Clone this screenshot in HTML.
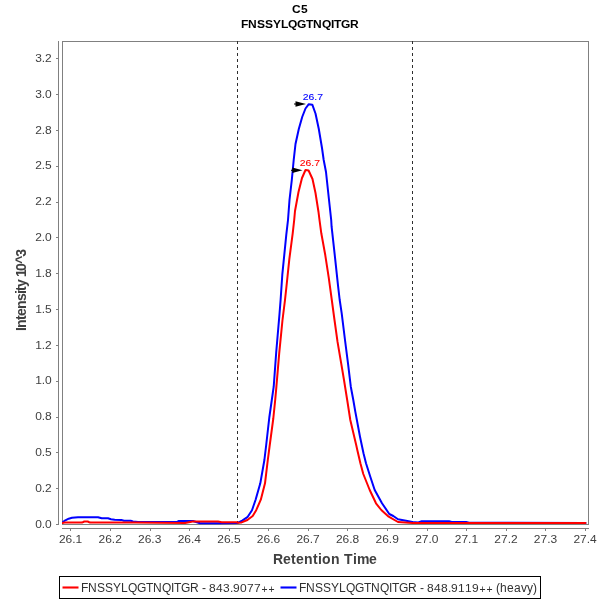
<!DOCTYPE html>
<html><head><meta charset="utf-8"><title>C5 FNSSYLQGTNQITGR</title>
<style>
html,body{margin:0;padding:0;background:#fff;}
body{width:600px;height:600px;overflow:hidden;}
svg{display:block;font-family:"Liberation Sans",Arial,Helvetica,sans-serif;}
.tk{font-size:12px;fill:#404040;}
.ax{font-size:14px;font-weight:bold;fill:#404040;}
.ti{font-size:12px;font-weight:bold;fill:#000;}
.lg{font-size:12px;fill:#303030;}
.an{font-size:9.3px;}
</style></head><body>
<svg width="600" height="600" viewBox="0 0 600 600">
<rect x="0" y="0" width="600" height="600" fill="#fff"/>
<text class="ti" transform="translate(0,12.6) scale(1,0.95)" x="292 301" y="0">C5</text>
<text class="ti" transform="translate(0,27.8) scale(1,0.95)" x="241 248 257 265 273 281 288 297 306 313 322 331 334 341 350" y="0">FNSSYLQGTNQITGR</text>
<g shape-rendering="crispEdges" stroke="#808080" stroke-width="1" fill="none">
<rect x="62.5" y="41.5" width="526" height="483"/>
<line x1="58.5" y1="41" x2="58.5" y2="525"/>
<line x1="62" y1="528.5" x2="589" y2="528.5"/>
<line x1="56" y1="58.5" x2="58" y2="58.5"/>
<line x1="56" y1="94.5" x2="58" y2="94.5"/>
<line x1="56" y1="130.5" x2="58" y2="130.5"/>
<line x1="56" y1="166.5" x2="58" y2="166.5"/>
<line x1="56" y1="202.5" x2="58" y2="202.5"/>
<line x1="56" y1="237.5" x2="58" y2="237.5"/>
<line x1="56" y1="273.5" x2="58" y2="273.5"/>
<line x1="56" y1="309.5" x2="58" y2="309.5"/>
<line x1="56" y1="345.5" x2="58" y2="345.5"/>
<line x1="56" y1="381.5" x2="58" y2="381.5"/>
<line x1="56" y1="417.5" x2="58" y2="417.5"/>
<line x1="56" y1="452.5" x2="58" y2="452.5"/>
<line x1="56" y1="488.5" x2="58" y2="488.5"/>
<line x1="56" y1="524.5" x2="58" y2="524.5"/>
<line x1="70.5" y1="529" x2="70.5" y2="531"/>
<line x1="110.5" y1="529" x2="110.5" y2="531"/>
<line x1="150.5" y1="529" x2="150.5" y2="531"/>
<line x1="189.5" y1="529" x2="189.5" y2="531"/>
<line x1="229.5" y1="529" x2="229.5" y2="531"/>
<line x1="268.5" y1="529" x2="268.5" y2="531"/>
<line x1="308.5" y1="529" x2="308.5" y2="531"/>
<line x1="347.5" y1="529" x2="347.5" y2="531"/>
<line x1="387.5" y1="529" x2="387.5" y2="531"/>
<line x1="427.5" y1="529" x2="427.5" y2="531"/>
<line x1="466.5" y1="529" x2="466.5" y2="531"/>
<line x1="506.5" y1="529" x2="506.5" y2="531"/>
<line x1="545.5" y1="529" x2="545.5" y2="531"/>
<line x1="585.5" y1="529" x2="585.5" y2="531"/>
</g>
<g class="tk" text-anchor="end" style="letter-spacing:-0.15px">
<text transform="translate(51.5,62.0) scale(1,0.92)">3.2</text>
<text transform="translate(51.5,97.8) scale(1,0.92)">3.0</text>
<text transform="translate(51.5,133.6) scale(1,0.92)">2.8</text>
<text transform="translate(51.5,169.4) scale(1,0.92)">2.5</text>
<text transform="translate(51.5,205.2) scale(1,0.92)">2.2</text>
<text transform="translate(51.5,241.1) scale(1,0.92)">2.0</text>
<text transform="translate(51.5,276.9) scale(1,0.92)">1.8</text>
<text transform="translate(51.5,312.7) scale(1,0.92)">1.5</text>
<text transform="translate(51.5,348.5) scale(1,0.92)">1.2</text>
<text transform="translate(51.5,384.3) scale(1,0.92)">1.0</text>
<text transform="translate(51.5,420.1) scale(1,0.92)">0.8</text>
<text transform="translate(51.5,456.0) scale(1,0.92)">0.5</text>
<text transform="translate(51.5,491.8) scale(1,0.92)">0.2</text>
<text transform="translate(51.5,527.6) scale(1,0.92)">0.0</text>
</g>
<g class="tk" text-anchor="middle">
<text transform="translate(70.6,543) scale(1,0.92)">26.1</text>
<text transform="translate(110.2,543) scale(1,0.92)">26.2</text>
<text transform="translate(149.7,543) scale(1,0.92)">26.3</text>
<text transform="translate(189.3,543) scale(1,0.92)">26.4</text>
<text transform="translate(228.9,543) scale(1,0.92)">26.5</text>
<text transform="translate(268.5,543) scale(1,0.92)">26.6</text>
<text transform="translate(308.1,543) scale(1,0.92)">26.7</text>
<text transform="translate(347.6,543) scale(1,0.92)">26.8</text>
<text transform="translate(387.2,543) scale(1,0.92)">26.9</text>
<text transform="translate(426.8,543) scale(1,0.92)">27.0</text>
<text transform="translate(466.4,543) scale(1,0.92)">27.1</text>
<text transform="translate(506.0,543) scale(1,0.92)">27.2</text>
<text transform="translate(545.5,543) scale(1,0.92)">27.3</text>
<text transform="translate(585.1,543) scale(1,0.92)">27.4</text>
</g>
<text class="ax" x="273 283 291 296 304 313 318 322 331 340 344 353 357 369" y="564">Retention Time</text>
<text class="ax" transform="translate(26,331) rotate(-90)" x="0 3 11 15 22 30 37 40 44 51 54 60 67.3 74.3" y="0">Intensity 10^3</text>
<g stroke="#2e2e2e" stroke-width="1" stroke-dasharray="3 3" shape-rendering="crispEdges"><line x1="237.5" y1="41" x2="237.5" y2="524"/><line x1="412.5" y1="41" x2="412.5" y2="524"/></g>
<clipPath id="pc"><rect x="62" y="41" width="527" height="484"/></clipPath>
<g clip-path="url(#pc)" fill="none" stroke-width="2" stroke-linejoin="round" stroke-linecap="round">
<polyline stroke="#0000ff" points="62.5,522.3 65.3,520.3 68.7,518.7 72.0,517.8 78.0,517.3 98.0,517.3 101.7,518.3 108.0,518.3 111.0,519.2 114.7,519.7 121.3,519.9 124.0,520.7 130.7,520.8 133.0,521.5 138.0,522.0 176.7,522.0 178.5,521.0 193.0,521.0 200.0,523.3 220.0,523.3 237.5,523.0 242.2,520.7 247.4,517.2 252.0,510.2 255.6,499.7 260.3,483.3 264.4,460.0 266.2,445.0 269.3,417.5 271.8,400.0 273.7,386.7 276.2,352.5 279.5,314.0 280.6,300.0 282.3,274.7 286.3,234.7 288.0,220.0 289.5,200.0 291.8,180.0 293.7,160.0 295.5,144.0 298.8,129.0 302.2,117.0 305.5,108.5 308.8,104.2 312.3,104.7 315.5,113.5 318.8,129.0 322.0,148.0 323.7,160.0 326.0,172.0 328.8,198.0 331.2,220.0 331.6,226.7 335.0,257.3 338.0,285.3 339.7,300.0 341.7,313.3 345.0,340.0 348.0,363.3 350.8,386.7 353.3,400.0 355.3,411.7 360.0,436.7 363.5,453.3 366.0,463.3 370.3,476.7 374.7,490.0 382.0,503.3 389.3,514.0 393.3,516.0 398.0,519.3 406.0,520.7 412.4,522.0 418.3,522.4 421.7,521.2 449.0,521.2 451.7,522.0 466.0,522.0 469.0,522.8 585.5,523.0"/>
<polyline stroke="#ff0000" points="62.5,523.0 64.5,522.6 82.0,522.6 84.3,521.5 87.7,521.5 90.0,522.6 135.0,522.6 185.0,523.0 192.7,521.5 218.0,521.5 221.7,522.3 236.7,522.3 238.0,522.8 241.6,522.4 247.4,520.0 252.7,516.0 256.2,510.2 260.8,499.7 265.0,483.3 267.8,460.0 269.5,447.0 273.3,418.5 275.2,400.0 276.4,386.7 279.2,353.3 282.5,320.0 285.0,300.0 286.3,288.0 289.3,259.3 292.7,233.3 294.2,220.0 295.0,211.0 298.5,192.0 302.0,178.0 305.5,170.0 308.6,170.5 312.5,179.0 315.5,193.0 318.5,212.0 319.5,220.0 321.3,233.3 325.3,255.3 328.7,277.3 331.8,300.0 334.5,320.0 337.5,341.7 341.2,363.3 344.0,380.0 347.2,400.0 350.3,420.0 356.2,445.0 357.3,450.0 360.4,463.3 363.3,474.0 369.7,490.0 376.0,503.3 381.3,510.0 388.7,516.7 398.0,522.0 412.4,523.0 585.5,523.0"/>
</g>
<g fill="#000" stroke="none"><path d="M306 104 L295.5 101.2 L295.5 103.4 L294 103.4 L294 104.6 L295.5 104.6 L295.5 106.8 Z"/><path d="M302.5 170.3 L292.3 167.5 L292.3 169.7 L291.2 169.7 L291.2 170.9 L292.3 170.9 L292.3 173.1 Z"/></g>
<text class="an" x="302.7" y="100" textLength="20.3" lengthAdjust="spacingAndGlyphs" fill="#0000ff" stroke="#0000ff" stroke-width="0.1">26.7</text>
<text class="an" x="299.7" y="166" textLength="20.3" lengthAdjust="spacingAndGlyphs" fill="#ff0000" stroke="#ff0000" stroke-width="0.1">26.7</text>
<rect x="59.5" y="576.5" width="481" height="22" fill="#fff" stroke="#000" stroke-width="1" shape-rendering="crispEdges"/>
<line x1="62.5" y1="587.5" x2="78.5" y2="587.5" stroke="#ff0000" stroke-width="2.1"/>
<text class="lg" x="81 88 97 105 113 121 128 137 146 153 162 171 174 181 190 199 202" y="591.6">FNSSYLQGTNQITGR -</text>
<text class="lg" transform="translate(0,591.6) scale(1,0.93)" x="209 216 223 230 233 240 247 254" y="0">843.9077</text>
<text class="lg" style="font-size:10.4px" x="261.45 268.45" y="592.7">++</text>
<line x1="280.5" y1="587.5" x2="296.5" y2="587.5" stroke="#0000ff" stroke-width="2.1"/>
<text class="lg" x="299 306 315 323 331 339 346 355 364 371 380 389 392 399 408 417 420" y="591.6">FNSSYLQGTNQITGR -</text>
<text class="lg" transform="translate(0,591.6) scale(1,0.93)" x="427 434 441 448 451 458 465 472" y="0">848.9119</text>
<text class="lg" style="font-size:10.4px" x="479.45 486.45" y="592.7">++</text>
<text class="lg" x="496 500 507 514 521 527 533" y="591.6">(heavy)</text>
</svg></body></html>
